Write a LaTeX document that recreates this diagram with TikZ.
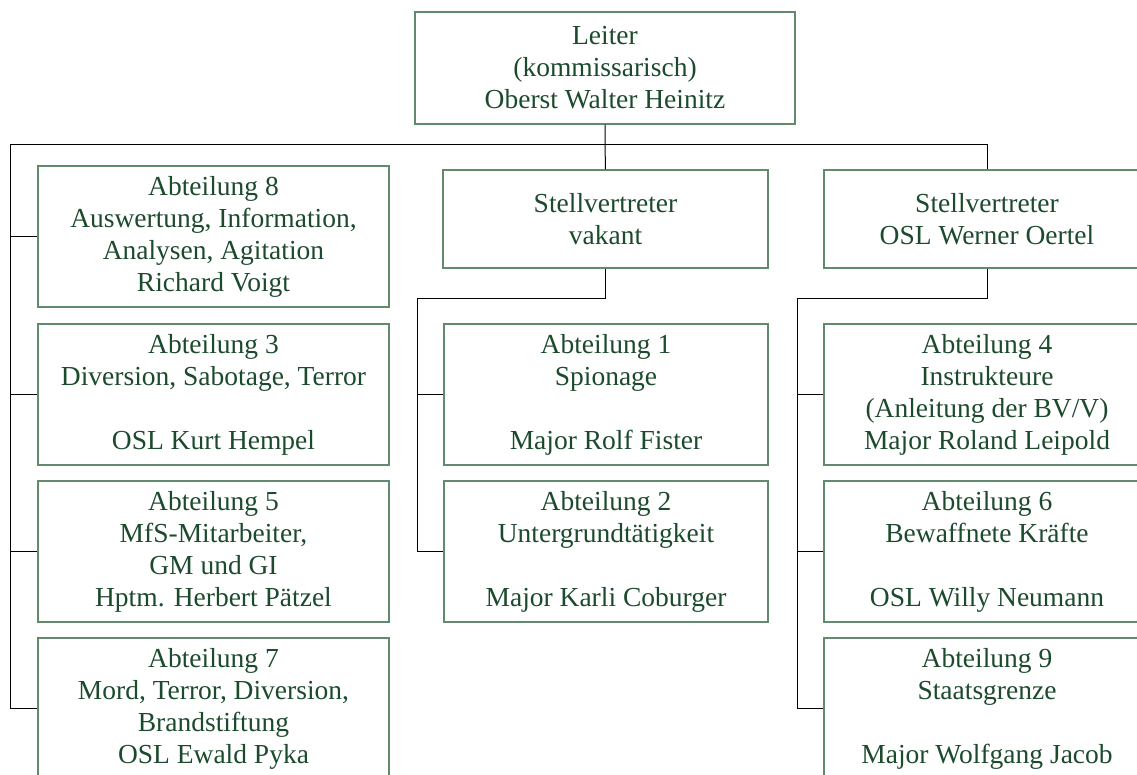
\documentclass[tikz,border=0pt]{standalone}
\usepackage{fontspec}
\setmainfont{Liberation Serif}
\definecolor{boxline}{RGB}{98,138,108}
\definecolor{boxtext}{RGB}{28,74,44}
\tikzset{
  unit/.style={draw=boxline, line width=1.3pt, text=boxtext, align=center,
    inner sep=0pt, font=\fontsize{27.5}{32}\selectfont},
  wide/.style={unit, minimum width=351pt, minimum height=141pt},
  mid/.style={unit, minimum width=324pt, minimum height=141pt},
  right/.style={unit, minimum width=326pt, minimum height=141pt},
  deputy/.style={unit, minimum width=325pt, minimum height=98pt},
  link/.style={draw=black, line width=1pt}
}
\begin{document}
\begin{tikzpicture}[x=1pt, y=-1pt]
\useasboundingbox (0,0) rectangle (1137,775);
\clip (0,0) rectangle (1137,775);

% head of the department
\node[unit, minimum width=380pt, minimum height=112pt] (head) at (605,68)
  {Leiter\\(kommissarisch)\\Oberst Walter Heinitz};

% deputies
\node[deputy] (dep1) at (605.5,219) {Stellvertreter\\vakant};
\node[deputy, minimum width=326pt] (dep2) at (987,219) {Stellvertreter\\OSL Werner Oertel};

% units directly under the head
\node[wide] (a8) at (213.5,236.5) {Abteilung 8\\Auswertung, Information,\\Analysen, Agitation\\Richard Voigt};
\node[wide] (a3) at (213.5,394.5) {Abteilung 3\\Diversion, Sabotage, Terror\\~\\OSL Kurt Hempel};
\node[wide] (a5) at (213.5,551.5) {Abteilung 5\\MfS-Mitarbeiter,\\GM und GI\\Hptm. Herbert Pätzel};
\node[wide] (a7) at (213.5,708.5) {Abteilung 7\\Mord, Terror, Diversion,\\Brandstiftung\\OSL Ewald Pyka};

% units under the first deputy
\node[mid] (a1) at (606,394.5) {Abteilung 1\\Spionage\\~\\Major Rolf Fister};
\node[mid] (a2) at (606,551.5) {Abteilung 2\\Untergrundtätigkeit\\~\\Major Karli Coburger};

% units under the second deputy
\node[right] (a4) at (987,394.5) {Abteilung 4\\Instrukteure\\(Anleitung der BV/V)\\Major Roland Leipold};
\node[right] (a6) at (987,551.5) {Abteilung 6\\Bewaffnete Kräfte\\~\\OSL Willy Neumann};
\node[right] (a9) at (987,708.5) {Abteilung 9\\Staatsgrenze\\~\\Major Wolfgang Jacob};

% bus lines
\coordinate (busL) at (10,145);
\coordinate (busR) at (987,145);
\coordinate (midbus) at (417,299);
\coordinate (rightbus) at (797,299);

% head to bus and deputies
\draw[link] (head.south) -- (head.south |- busL) -- (dep1.north);
\draw[link] (busL) -- (busR) -- (dep2.north);

% left column
\draw[link] (busL) -- (busL |- a7.west) -- (a7.west);
\draw[link] (busL |- a8.west) -- (a8.west);
\draw[link] (busL |- a3.west) -- (a3.west);
\draw[link] (busL |- a5.west) -- (a5.west);

% middle column
\draw[link] (dep1.south) -- (dep1.south |- midbus) -- (midbus) -- (midbus |- a2.west) -- (a2.west);
\draw[link] (midbus |- a1.west) -- (a1.west);

% right column
\draw[link] (dep2.south) -- (dep2.south |- rightbus) -- (rightbus) -- (rightbus |- a9.west) -- (a9.west);
\draw[link] (rightbus |- a4.west) -- (a4.west);
\draw[link] (rightbus |- a6.west) -- (a6.west);
\end{tikzpicture}
\end{document}
